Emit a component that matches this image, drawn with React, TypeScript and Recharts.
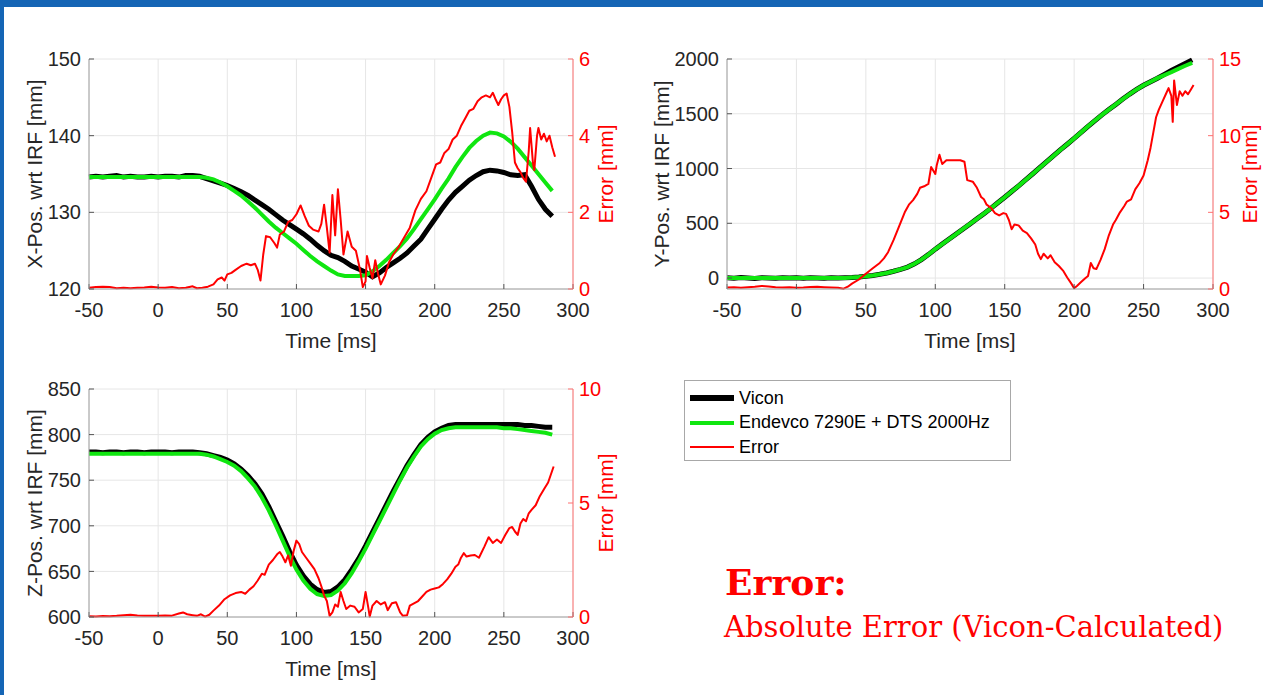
import React from 'react';
import { LineChart, Line, XAxis, YAxis, CartesianGrid, Legend } from 'recharts';

const FONT = '"Liberation Sans", Arial, Helvetica, sans-serif';
const INK = '#262626';
const BOX = '#a0a0a0';
const GRID = '#e6e6e6';
const RED = '#ff0000';
const GREEN = '#10e610';

const timeTicks = [-50, 0, 50, 100, 150, 200, 250, 300];

// position samples, every 5 ms
const posTime = [
  -50, -45, -40, -35, -30, -25, -20, -15, -10, -5, 0, 5, 10, 15, 20, 25,
  30, 35, 40, 45, 50, 55, 60, 65, 70, 75, 80, 85, 90, 95, 100, 105, 110, 115, 120, 125,
  130, 135, 140, 145, 150, 155, 160, 165, 170, 175, 180, 185, 190, 195, 200, 205, 210, 215, 220, 225,
  230, 235, 240, 245, 250, 255, 260, 265, 270, 275, 280, 285,
];

// X position
const xVicon = [
  134.6, 134.7, 134.6, 134.7, 134.8, 134.6, 134.7, 134.6, 134.6, 134.7, 134.6, 134.7, 134.7, 134.6, 134.8, 134.8,
  134.7, 134.4, 134.1, 133.8, 133.5, 133.1, 132.7, 132.2, 131.6, 131.0,
  130.4, 129.7, 129.0, 128.4, 127.8, 127.2, 126.5, 125.7, 125.0, 124.4,
  124.1, 123.6, 123.0, 122.6, 122.2, 121.6, 122.1, 122.8, 123.4, 124.0,
  124.7, 125.6, 126.5, 127.8, 129.1, 130.4, 131.6, 132.6, 133.4, 134.2,
  134.8, 135.3, 135.5, 135.4, 135.2, 134.9, 134.8, 134.9, 133.4, 131.7,
  130.4, 129.5,
];
const xEndevco = [
  134.6, 134.6, 134.6, 134.6, 134.6, 134.6, 134.6, 134.6, 134.6, 134.6, 134.6, 134.6, 134.6, 134.6, 134.6, 134.6,
  134.6, 134.5, 134.3, 133.9, 133.4, 132.8, 132.2, 131.4, 130.6, 129.7,
  128.8, 128.0, 127.3, 126.6, 125.9, 125.1, 124.3, 123.6, 123.0, 122.4,
  121.9, 121.7, 121.7, 121.7, 121.8, 122.3, 123.0, 123.8, 124.7, 125.6,
  126.6, 127.8, 129.1, 130.4, 131.7, 133.1, 134.4, 135.9, 137.2, 138.4,
  139.3, 140.0, 140.4, 140.3, 139.9, 139.2, 138.3, 137.2, 136.1, 135.0,
  133.9, 132.8,
];
const xErrTime = [
  -50, -45, -40, -35, -30, -25, -20, -15, -10, -5, 0, 5, 10, 15, 20, 25,
  28, 32, 36, 40, 43, 46, 48, 50, 53, 56, 60, 64, 67, 70, 72, 74, 76, 78, 81, 84,
  86, 88, 91, 94, 97, 100, 103, 106, 109, 112, 116, 118, 120, 122, 124, 126, 128, 130, 132, 134,
  137, 140, 143, 146, 148, 150, 151, 153, 155, 157, 159, 161, 164, 167, 170, 174, 178, 182, 186, 190,
  194, 198, 201, 204, 207, 210, 213, 216, 219, 222, 225, 228, 231, 234, 237, 240, 242, 244, 246, 248,
  250, 252, 254, 256, 258, 260, 262, 264, 266, 268, 269, 271, 272, 274, 275, 277, 279, 281, 283, 285, 287,
];
const xError = [
  0.03, 0.05, 0.06, 0.05, 0.02, 0.03, 0.02, 0.03, 0.04, 0.06, 0.04, 0.03, 0.05, 0.02, 0.03, 0.07,
  0.02, 0.03, 0.06, 0.12, 0.25, 0.3, 0.22, 0.38, 0.42, 0.5, 0.6, 0.66, 0.62, 0.66, 0.5, 0.22, 0.9, 1.38, 1.35, 1.2,
  1.08, 1.42, 1.5, 1.75, 1.8, 1.95, 2.18, 1.9, 1.65, 1.55, 1.5, 1.7, 2.2, 1.6, 0.95, 2.45, 1.4, 2.6, 1.8, 0.9,
  1.5, 1.1, 1.0, 0.5, 0.05, 0.2, 0.86, 0.55, 0.28, 0.75, 0.4, 0.12, 0.35, 0.7, 0.9, 1.1, 1.35, 1.6, 2.05, 2.35,
  2.55, 2.95, 3.25, 3.3, 3.55, 3.65, 3.9, 4.0, 4.25, 4.45, 4.65, 4.7, 4.9, 5.0, 5.05, 5.0, 5.12, 4.95, 4.8, 4.95,
  5.05, 5.1, 4.75, 4.1, 3.3, 3.15, 3.05, 2.9, 2.8, 3.6, 4.2, 3.3, 3.1, 4.0, 4.2, 3.9, 4.05, 3.85, 4.0, 3.7, 3.45,
];

// Y position
const yVicon = [
  3, -2, 4, 0, -3, 2, 1, -2, 3, 0, 2, -1, 3, 1, -2, 2, 0, 3,
  4, 9, 16, 24, 34, 46, 62, 80, 100, 130,
  168, 214, 264, 310, 356, 402, 448, 494, 541, 588,
  636, 687, 738, 790, 842, 896, 950, 1005, 1060, 1115,
  1170, 1222, 1275, 1330, 1385, 1438, 1490, 1538, 1585, 1634,
  1680, 1722, 1760, 1793, 1825, 1860, 1895, 1928, 1960, 1992,
];
const yEndevco = [
  0, 0, 0, 0, 0, 0, 0, 0, 0, 0, 0, 0, 0, 0, 0, 0, 0, 0,
  4, 9, 16, 24, 34, 46, 62, 80, 100, 130,
  168, 214, 264, 310, 356, 402, 448, 494, 541, 588,
  636, 687, 738, 790, 842, 896, 950, 1005, 1060, 1115,
  1170, 1222, 1275, 1330, 1385, 1438, 1490, 1538, 1585, 1634,
  1680, 1722, 1760, 1793, 1825, 1852, 1880, 1910, 1938, 1965,
];
const yErrTime = [
  -50, -45, -40, -35, -30, -25, -20, -15, -10, -5, 0, 5, 10, 15, 20, 25, 30,
  34, 37, 40, 45, 50, 55, 60, 63, 66, 70, 74, 78, 81, 84, 87, 89, 92, 95, 97, 100,
  101, 103, 105, 108, 112, 118, 121, 123, 127, 130, 133, 135, 137, 140, 143, 146, 149, 151, 153, 155,
  157, 160, 163, 166, 169, 172, 174, 176, 178, 181, 183, 186, 189, 192, 195, 198, 200, 202, 205, 208,
  210, 212, 214, 216, 219, 222, 225, 228, 230, 233, 236, 238, 241, 244, 247, 250, 253, 255, 257, 259,
  261, 264, 266, 268, 270, 271, 272, 273, 274, 276, 278, 280, 282, 284, 286,
];
const yError = [
  0.1, 0.12, 0.08, 0.12, 0.15, 0.2, 0.17, 0.12, 0.1, 0.12, 0.08, 0.1, 0.13, 0.15, 0.12, 0.1, 0.08,
  0.02, 0.15, 0.35, 0.62, 1.0, 1.35, 1.7, 2.0, 2.4, 3.2, 4.1, 5.0, 5.5, 5.8, 6.2, 6.6, 6.7, 6.85, 7.95, 7.5,
  8.05, 8.75, 8.15, 8.4, 8.4, 8.4, 8.3, 7.1, 7.0, 6.6, 6.0, 5.85, 5.5, 5.3, 4.95, 4.8, 4.95, 4.9, 4.5, 3.9,
  4.2, 4.15, 3.8, 3.65, 3.3, 2.9, 2.3, 1.95, 2.3, 2.0, 2.2, 1.75, 1.5, 1.2, 0.75, 0.35, 0.05, 0.2, 0.45, 0.7,
  0.85, 1.7, 1.35, 1.3, 1.9, 2.6, 3.5, 4.2, 4.5, 5.0, 5.4, 5.7, 5.85, 6.5, 6.9, 7.4, 8.4, 9.2, 10.2, 11.2,
  11.7, 12.3, 12.7, 13.1, 12.6, 10.9, 13.6, 12.8, 12.0, 12.9, 12.6, 12.9, 12.7, 13.0, 13.3,
];

// Z position
const zVicon = [
  781, 781, 780, 781, 781, 780, 781, 781, 780, 781, 781, 781, 780, 781, 781, 781,
  780, 779, 777, 775, 772, 768, 762, 755, 746, 735,
  721, 705, 689, 672, 657, 645, 636, 630, 627, 628,
  633, 641, 652, 664, 678, 693, 708, 723, 738, 752,
  766, 778, 789, 797, 803, 807, 810, 811, 811, 811,
  811, 811, 811, 811, 811, 811, 811, 810, 810, 809,
  808, 808,
];
const zEndevco = [
  779, 779, 779, 779, 779, 779, 779, 779, 779, 779, 779, 779, 779, 779, 779, 779,
  779, 778, 776, 773, 770, 766, 760, 752, 743, 731,
  717, 701, 684, 667, 652, 640, 631, 625, 623, 624,
  629, 637, 648, 661, 675, 690, 705, 720, 735, 750,
  764, 776, 787, 795, 801, 805, 807, 808, 808, 808,
  808, 808, 808, 808, 807, 807, 806, 805, 804, 803,
  802, 800,
];
const zErrTime = [
  -50, -45, -40, -35, -30, -25, -20, -15, -10, -5, 0, 5, 10, 15,
  18, 21, 25, 28, 31, 34, 37, 40, 44, 48, 52, 56, 60, 63, 66, 69, 72, 75, 77, 80,
  83, 86, 88, 90, 92, 94, 96, 98, 100, 102, 104, 107, 110, 113, 116, 118, 120, 122, 124, 126,
  128, 130, 132, 134, 136, 139, 142, 145, 148, 150, 152, 153, 155, 158, 161, 164, 166, 169, 172, 175,
  177, 180, 182, 185, 188, 191, 194, 197, 200, 203, 206, 209, 212, 215, 217, 219, 221, 223, 226, 229,
  232, 236, 239, 242, 245, 248, 251, 254, 256, 258, 260, 262, 264, 266, 268, 270, 273, 276, 279, 282, 284, 286,
];
const zError = [
  0.03, 0.02, 0.04, 0.03, 0.05, 0.08, 0.1, 0.07, 0.05, 0.06, 0.05, 0.07, 0.06, 0.15,
  0.2, 0.12, 0.08, 0.05, 0.12, 0.02, 0.1, 0.28, 0.5, 0.78, 0.95, 1.05, 1.1, 1.02, 1.2, 1.35, 1.6, 1.9, 1.85, 2.3,
  2.5, 2.75, 2.85, 2.65, 2.4, 2.7, 2.25, 2.9, 3.35, 3.2, 2.85, 2.6, 2.35, 2.1, 1.7, 1.35, 0.95, 0.7, 0.05, 0.2,
  0.55, 0.45, 1.1, 0.7, 0.35, 0.5, 0.45, 0.2, 0.35, 1.1, 0.4, 0.02, 0.5, 0.7, 0.55, 0.65, 0.3, 0.6, 0.65, 0.2,
  0.05, 0.08, 0.5, 0.6, 0.7, 0.9, 1.1, 1.2, 1.25, 1.3, 1.45, 1.65, 1.9, 2.2, 2.3, 2.6, 2.8, 2.65, 2.7, 2.72,
  2.6, 3.1, 3.5, 3.25, 3.4, 3.25, 3.6, 3.9, 3.95, 3.75, 3.6, 4.1, 4.3, 4.2, 4.55, 4.7, 4.9, 5.3, 5.6, 5.9, 6.25, 6.6,
];

const seriesNames = ['Vicon', 'Endevco 7290E + DTS 2000Hz', 'Error'];

const zip = (t: number[], v: number[]) => t.map((x, i) => ({ t: x, v: v[i] }));

const legendThickness: Record<string, number> = {
  Vicon: 6,
  'Endevco 7290E + DTS 2000Hz': 4,
  Error: 2,
};

const LegendBox = ({ payload }: any) => {
  // keep the plotting order (recharts sorts entries by name)
  const items = [...(payload || [])].sort(
    (a: any, b: any) => seriesNames.indexOf(a.value) - seriesNames.indexOf(b.value)
  );
  return (
    <div
      style={{
        border: '1px solid #a8a8a8',
        background: '#fff',
        padding: '5px 6px 0 5px',
        fontFamily: FONT,
        fontSize: 18,
        color: '#000',
        width: 327,
        boxSizing: 'border-box',
      }}
    >
      {items.map((e: any) => (
        <div key={e.value} style={{ display: 'flex', alignItems: 'center', height: 24.5 }}>
          <span
            style={{
              display: 'inline-block',
              width: 44,
              height: legendThickness[e.value] || 2,
              background: e.color,
              marginRight: 5,
            }}
          />
          <span>{e.value}</span>
        </div>
      ))}
    </div>
  );
};

const VTitle = ({ viewBox, value, dx, color, size }: any) => {
  const cx = viewBox.x + dx;
  const cy = viewBox.y + viewBox.height / 2;
  return (
    <text
      x={cx}
      y={cy}
      transform={`rotate(-90 ${cx} ${cy})`}
      textAnchor="middle"
      dominantBaseline="central"
      fill={color}
      fontSize={size}
    >
      {value}
    </text>
  );
};

const XTitle = ({ viewBox }: any) => (
  <text x={viewBox.x + viewBox.width / 2} y={viewBox.y + 59} textAnchor="middle" fill={INK} fontSize={21}>
    Time [ms]
  </text>
);

interface PanelProps {
  left: number;
  top: number;
  width: number;
  height: number;
  margin: { top: number; right: number; bottom: number; left: number };
  leftWidth: number;
  rightWidth: number;
  vicon: number[];
  endevco: number[];
  errTime: number[];
  error: number[];
  leftDomain: [number, number];
  leftTicks: number[];
  rightDomain: [number, number];
  rightTicks: number[];
  leftTitle: string;
  leftTitleDx: number;
  rightTitleDx: number;
  showLegend?: boolean;
}

const Panel: React.FC<PanelProps> = (p) => (
  <div style={{ position: 'absolute', left: p.left, top: p.top }}>
    <LineChart width={p.width} height={p.height} margin={p.margin} style={{ fontFamily: FONT }}>
      <CartesianGrid yAxisId="left" stroke={GRID} />
      <XAxis
        dataKey="t"
        type="number"
        domain={[-50, 300]}
        ticks={timeTicks}
        height={71}
        axisLine={{ stroke: BOX }}
        tickLine={{ stroke: '#555' }}
        tickSize={-5}
        tickMargin={19}
        tick={{ fill: INK, fontSize: 20 }}
        label={{ content: (lp: any) => <XTitle viewBox={lp.viewBox} /> }}
      />
      <XAxis
        xAxisId="top"
        orientation="top"
        dataKey="t"
        type="number"
        domain={[-50, 300]}
        ticks={timeTicks}
        height={0}
        tick={false}
        tickLine={false}
        axisLine={{ stroke: BOX }}
      />
      <YAxis
        yAxisId="left"
        type="number"
        domain={p.leftDomain}
        ticks={p.leftTicks}
        width={p.leftWidth}
        axisLine={{ stroke: BOX }}
        tickLine={{ stroke: '#555' }}
        tickSize={-5}
        tickMargin={13}
        tick={{ fill: INK, fontSize: 20 }}
        label={{
          content: (lp: any) => (
            <VTitle viewBox={lp.viewBox} value={p.leftTitle} dx={p.leftTitleDx} color={INK} size={21} />
          ),
        }}
      />
      <YAxis
        yAxisId="right"
        orientation="right"
        type="number"
        domain={p.rightDomain}
        ticks={p.rightTicks}
        width={p.rightWidth}
        axisLine={{ stroke: '#ff7070' }}
        tickLine={{ stroke: '#ff7070' }}
        tickSize={-5}
        tickMargin={11}
        tick={{ fill: RED, fontSize: 20 }}
        label={{
          content: (lp: any) => (
            <VTitle viewBox={lp.viewBox} value="Error [mm]" dx={p.rightTitleDx} color={RED} size={21} />
          ),
        }}
      />
      <Line
        yAxisId="left"
        data={zip(posTime, p.vicon)}
        dataKey="v"
        name={seriesNames[0]}
        stroke="#000000"
        strokeWidth={5}
        dot={false}
        isAnimationActive={false}
      />
      <Line
        yAxisId="left"
        data={zip(posTime, p.endevco)}
        dataKey="v"
        name={seriesNames[1]}
        stroke={GREEN}
        strokeWidth={4}
        dot={false}
        isAnimationActive={false}
      />
      <Line
        yAxisId="right"
        data={zip(p.errTime, p.error)}
        dataKey="v"
        name={seriesNames[2]}
        stroke={RED}
        strokeWidth={2}
        strokeLinejoin="round"
        dot={false}
        isAnimationActive={false}
      />
      {p.showLegend && (
        <Legend
          layout="vertical"
          align="center"
          verticalAlign="middle"
          content={<LegendBox />}
          wrapperStyle={{ left: 44, top: 380, width: 327 }}
        />
      )}
    </LineChart>
  </div>
);

export default function App() {
  return (
    <div
      style={{
        position: 'absolute',
        left: 0,
        top: 0,
        width: 1263,
        height: 695,
        background: '#ffffff',
        overflow: 'hidden',
        fontFamily: FONT,
      }}
    >
      <Panel
        left={0}
        top={0}
        width={640}
        height={360}
        margin={{ top: 59, right: 0, bottom: 0, left: 0 }}
        leftWidth={89}
        rightWidth={67}
        vicon={xVicon}
        endevco={xEndevco}
        errTime={xErrTime}
        error={xError}
        leftDomain={[120, 150]}
        leftTicks={[120, 130, 140, 150]}
        rightDomain={[0, 6]}
        rightTicks={[0, 2, 4, 6]}
        leftTitle="X-Pos. wrt IRF [mm]"
        leftTitleDx={34}
        rightTitleDx={32}
      />
      <Panel
        left={640}
        top={0}
        width={623}
        height={470}
        margin={{ top: 59, right: 0, bottom: 110, left: 0 }}
        leftWidth={87}
        rightWidth={50}
        vicon={yVicon}
        endevco={yEndevco}
        errTime={yErrTime}
        error={yError}
        leftDomain={[-100, 2000]}
        leftTicks={[0, 500, 1000, 1500, 2000]}
        rightDomain={[0, 15]}
        rightTicks={[0, 5, 10, 15]}
        leftTitle="Y-Pos. wrt IRF [mm]"
        leftTitleDx={21}
        rightTitleDx={36}
        showLegend
      />
      <Panel
        left={0}
        top={360}
        width={640}
        height={335}
        margin={{ top: 29, right: 0, bottom: 7, left: 0 }}
        leftWidth={89}
        rightWidth={67}
        vicon={zVicon}
        endevco={zEndevco}
        errTime={zErrTime}
        error={zError}
        leftDomain={[600, 850]}
        leftTicks={[600, 650, 700, 750, 800, 850]}
        rightDomain={[0, 10]}
        rightTicks={[0, 5, 10]}
        leftTitle="Z-Pos. wrt IRF [mm]"
        leftTitleDx={34}
        rightTitleDx={32}
      />
      <svg
        width={1263}
        height={695}
        style={{ position: 'absolute', left: 0, top: 0, pointerEvents: 'none' }}
      >
        <text x={725} y={595} fill={RED} fontFamily='"DejaVu Serif", serif' fontWeight="bold" fontSize={36}>
          Error:
        </text>
        <text x={724} y={637} fill={RED} fontFamily='"DejaVu Serif", serif' fontSize={29}>
          Absolute Error (Vicon-Calculated)
        </text>
      </svg>
      <div style={{ position: 'absolute', left: 0, top: 0, width: 1263, height: 7, background: '#1565b5' }} />
      <div style={{ position: 'absolute', left: 0, top: 0, width: 4, height: 695, background: '#1565b5' }} />
    </div>
  );
}
